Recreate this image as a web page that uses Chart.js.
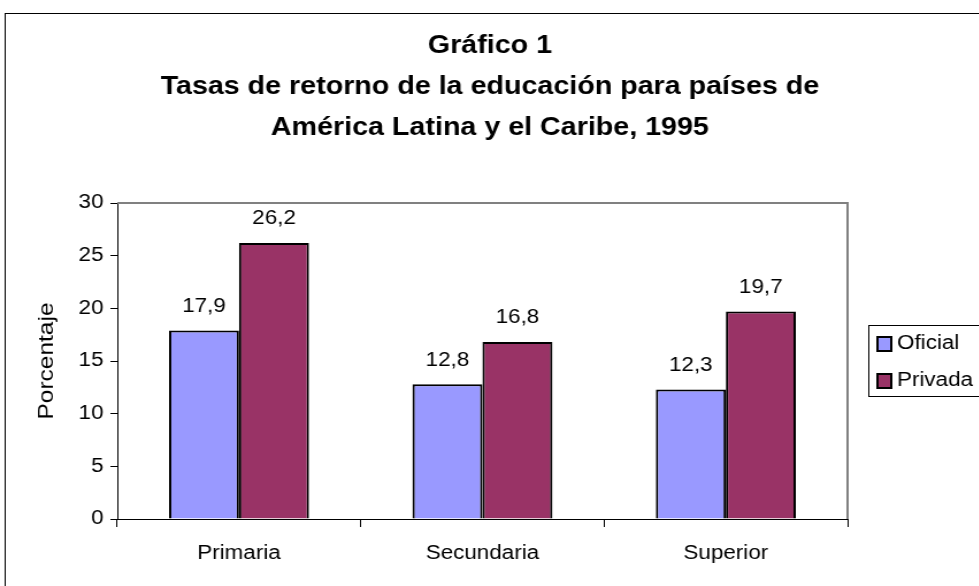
<!DOCTYPE html>
<html lang="es">
<head>
<meta charset="UTF-8">
<title>Gráfico 1</title>
<script src="https://cdn.jsdelivr.net/npm/chart.js@4.4.0/dist/chart.umd.min.js"></script>
<style>
    html, body { margin: 0; padding: 0; background: #fff; overflow: hidden; }
    /* el texto del original es más ancho que Arial normal: se estira un poco en horizontal */
    #wrap { width: 852px; height: 586px; transform: scaleX(1.15); transform-origin: 0 0; }
</style>
</head>
<body>
<div id="wrap"><canvas id="myChart" width="852" height="586"></canvas></div>
<script>
// datos del gráfico
var categories = ["Primaria", "Secundaria", "Superior"];
var oficial = [17.9, 12.8, 12.3];
var privada = [26.2, 16.8, 19.7];
var seriesNames = ["Oficial", "Privada"];
var titleLines = ["Gráfico 1", "Tasas de retorno de la educación para países de", "América Latina y el Caribe, 1995"];
var yTitle = "Porcentaje";

var FONT = "'Liberation Sans', Arial, sans-serif";
var FS = 19.5;

// marco, título, etiquetas de valor y leyenda
var decoPlugin = {
    id: 'deco',
    beforeDraw: function(chart) {
        var ctx = chart.ctx;
        ctx.save();
        ctx.fillStyle = '#fff';
        ctx.fillRect(0, 0, chart.width, chart.height);
        ctx.strokeStyle = '#000';
        ctx.lineWidth = 1;
        ctx.strokeRect(4.5, 13.5, chart.width + 10, chart.height + 10);
        ctx.restore();
    },
    afterDraw: function(chart) {
        var ctx = chart.ctx;
        var a = chart.chartArea;
        ctx.save();
        // borde del área de trazado
        ctx.strokeStyle = '#808080';
        ctx.lineWidth = 2;
        ctx.beginPath();
        ctx.moveTo(a.left, a.top);
        ctx.lineTo(a.right, a.top);
        ctx.lineTo(a.right, a.bottom);
        ctx.stroke();

        // título
        ctx.fillStyle = '#000';
        ctx.textAlign = 'center';
        ctx.textBaseline = 'middle';
        ctx.save();
        ctx.font = 'bold 26.5px ' + FONT;
        ctx.translate(426, 0);
        ctx.scale(0.94, 1);
        for (var i = 0; i < titleLines.length; i++) {
            ctx.fillText(titleLines[i], 0, 46 + i * 41);
        }
        ctx.restore();

        // título del eje y (girado, más largo que el Arial normal)
        ctx.save();
        ctx.font = '18px ' + FONT;
        ctx.translate(41.5, 361);
        ctx.rotate(-Math.PI / 2);
        var w = ctx.measureText(yTitle).width;
        ctx.scale(117 / w, 1);
        ctx.fillText(yTitle, 0, 0);
        ctx.restore();

        // valores sobre las barras
        ctx.font = FS + 'px ' + FONT;
        chart.data.datasets.forEach(function(ds, di) {
            var meta = chart.getDatasetMeta(di);
            meta.data.forEach(function(bar, j) {
                var txt = ds.data[j].toFixed(1).replace('.', ',');
                ctx.fillText(txt, bar.x, bar.y - 24);
            });
        });

        // leyenda
        ctx.lineWidth = 1;
        ctx.strokeStyle = '#000';
        ctx.strokeRect(755.5, 325.5, 100, 71);
        ctx.textAlign = 'left';
        chart.data.datasets.forEach(function(ds, di) {
            var y = 337 + di * 37;
            ctx.fillStyle = ds.backgroundColor;
            ctx.fillRect(763, y, 12, 14);
            ctx.lineWidth = 2;
            ctx.strokeRect(763, y, 12, 14);
            ctx.fillStyle = '#000';
            ctx.fillText(ds.label, 780, y + 7);
        });
        ctx.restore();
    }
};

var config = {
    type: 'bar',
    data: {
        labels: categories,
        datasets: [{
            label: seriesNames[0],
            data: oficial,
            backgroundColor: '#9999FF',
            borderColor: '#000',
            borderWidth: 2,
            categoryPercentage: 0.575,
            barPercentage: 1
        }, {
            label: seriesNames[1],
            data: privada,
            backgroundColor: '#993366',
            borderColor: '#000',
            borderWidth: 2,
            categoryPercentage: 0.575,
            barPercentage: 1
        }]
    },
    options: {
        responsive: false,
        animation: false,
        layout: { padding: { left: 27, top: 203, right: 115, bottom: 0 } },
        plugins: {
            legend: { display: false },
            tooltip: { enabled: false }
        },
        scales: {
            x: {
                grid: { drawOnChartArea: false, tickLength: 8, color: '#000', offset: true },
                border: { color: '#000', width: 1 },
                ticks: { color: '#000', padding: 15, font: { family: FONT, size: FS } },
                afterFit: function(s) { s.height = 67; }
            },
            y: {
                min: 0,
                max: 30,
                ticks: { stepSize: 5, color: '#000', padding: 6, font: { family: FONT, size: FS } },
                grid: { drawOnChartArea: false, tickLength: 6, color: '#000' },
                border: { color: '#000', width: 1 },
                title: { display: false },
                afterFit: function(s) { s.width = 75; }
            }
        }
    },
    plugins: [decoPlugin]
};

var myChart = new Chart(document.getElementById('myChart'), config);
</script>
</body>
</html>
